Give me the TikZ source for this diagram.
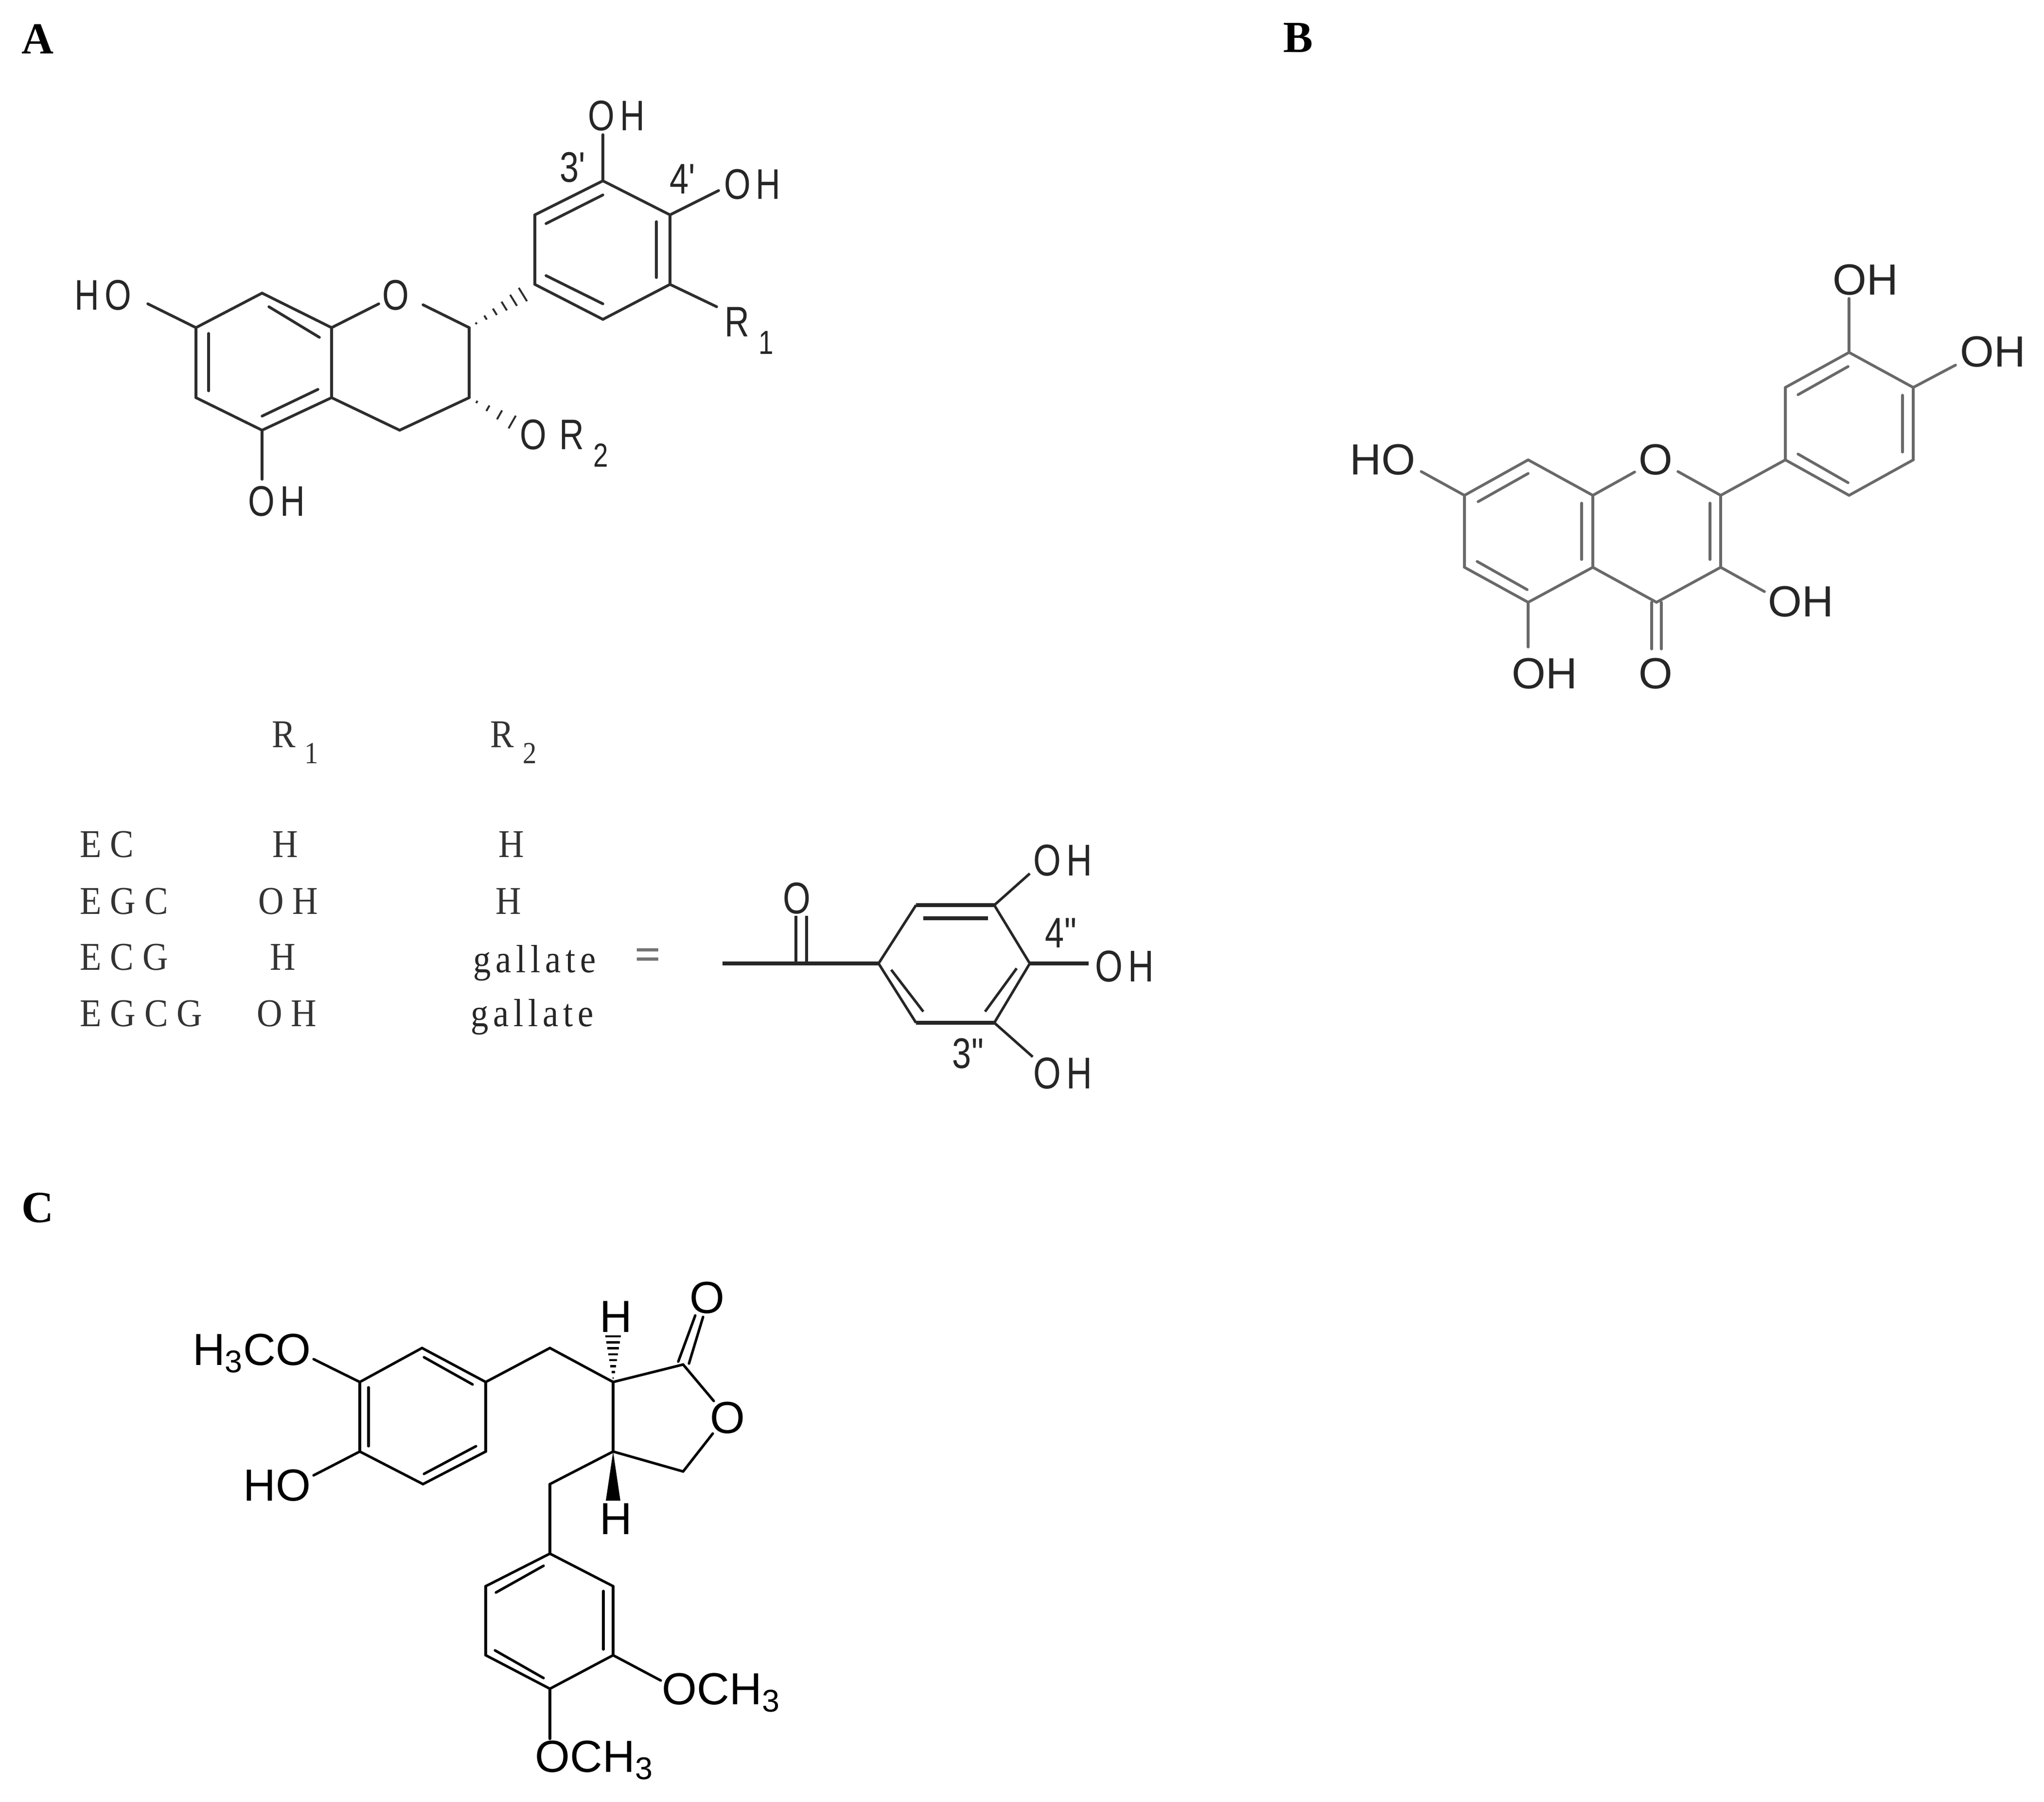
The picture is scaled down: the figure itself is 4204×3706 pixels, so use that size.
\documentclass[tikz,border=0pt]{standalone}
\usepackage{fontspec}
\usetikzlibrary{calc}
\setmainfont{Liberation Sans}
\newfontfamily\narrowsans[FakeStretch=0.8,LetterSpace=12]{Liberation Sans}
\newfontfamily\primefont[FakeStretch=0.8]{Liberation Sans}
\newfontfamily\tablefont[FakeStretch=0.9,LetterSpace=22]{Liberation Serif}
\newfontfamily\lowerfont[FakeStretch=0.9,LetterSpace=12]{Liberation Serif}
\newfontfamily\panelfont{Liberation Serif}
\definecolor{inkA}{RGB}{45, 45, 45}
\definecolor{inkB}{RGB}{105, 105, 105}
\newcommand{\lowsub}[1]{\hspace{0.22em}\raisebox{-0.42em}{\scalebox{0.78}{#1}}}
\newcommand{\hashbond}[4]{% from, to, half width, style
  \foreach \t in {#4} {
    \draw[#3] ($(#1)!\t!(#2)!\t*5pt!90:(#2)$) -- ($(#1)!\t!(#2)!\t*5pt!-90:(#2)$);
  }
}
\tikzset{
  bondA/.style={line width=1.6pt, draw=inkA, line cap=round},
  bondB/.style={line width=1.6pt, draw=inkB, line cap=round},
  bondC/.style={line width=1.5pt, draw=black, line cap=round},
  bondGal/.style={line width=1.5pt, draw=black!85},
  thickGal/.style={line width=2.4pt, draw=black!85},
  hashA/.style={line width=1.1pt, draw=inkA},
  hashC/.style={line width=1.3pt, draw=black},
  labelA/.style={inner sep=0pt, text=black!85, font=\fontsize{25}{25}\selectfont\narrowsans},
  primeA/.style={inner sep=0pt, text=black!85, font=\fontsize{25}{25}\selectfont\primefont},
  labelB/.style={inner sep=0pt, text=black!85, font=\fontsize{25.5}{26}\selectfont},
  labelC/.style={inner sep=0pt, text=black, font=\fontsize{26.3}{27}\selectfont},
  cellbox/.style={inner sep=0pt, text=black!80, font=\fontsize{23}{24}\selectfont\tablefont},
  gallatebox/.style={inner sep=0pt, text=black!85, font=\fontsize{23}{24}\selectfont\lowerfont},
  galabel/.style={inner sep=0pt, text=black!85, font=\fontsize{26}{26}\selectfont\narrowsans},
  panel/.style={inner sep=0pt, font=\fontsize{26}{26}\selectfont\panelfont\bfseries}
}
\begin{document}
\begin{tikzpicture}[x=0.01cm, y=-0.01cm]
  \useasboundingbox (0,0) rectangle (4204,3706);

  % panel letters
  \node[panel] (panelA) at (78,80) {A};
  \node[panel] (panelB) at (2670,78) {B};
  \node[panel] (panelC) at (78,2485) {C};

  % catechin skeleton
  \foreach \n/\x/\y in {a7/403/674, a8/539/603, a8a/682/674, a4a/682/818, a5/539/885, a6/403/818,
      aOl/779/625, aOr/870/627, a2/965/674, a3/965/818, a4/822/885,
      b1/1100/585, b2/1240/657, b3/1378/585, b4/1378/442, b5/1240/372, b6/1100/442,
      aOHt/1240/277, aOHr/1478/392, aRe/1474/631, aHOe/304/625, aOHb/539/986, aORe/1069/877, a1h/1085/600,
      i1s/553/631, i1e/657/694, i2s/429/686, i2e/429/804, i3s/654/801, i3e/539/856,
      i4s/1123/460, i4e/1240/401, i5s/1350/456, i5e/1350/571, i6s/1123/567, i6e/1240/625}
    \coordinate (\n) at (\x,\y);
  \foreach \p/\q in {a7/a8, a8/a8a, a8a/a4a, a4a/a5, a5/a6, a6/a7, a8a/aOl, aOr/a2, a2/a3, a3/a4, a4/a4a,
      b1/b2, b2/b3, b3/b4, b4/b5, b5/b6, b6/b1, b5/aOHt, b4/aOHr, b3/aRe, a7/aHOe, a5/aOHb,
      i1s/i1e, i2s/i2e, i3s/i3e, i4s/i4e, i5s/i5e, i6s/i6e}
    \draw[bondA] (\p) -- (\q);
  \hashbond{a2}{a1h}{hashA}{0.12,0.28,0.44,0.6,0.76,0.92}
  \hashbond{a3}{aORe}{hashA}{0.15,0.37,0.6,0.85}

  \node[labelA] (aHO) at (212,607) {HO};
  \node[labelA] (aO) at (814,607) {O};
  \node[labelA] (aOH1) at (1268,238) {OH};
  \node[labelA] (aOH2) at (1547,379) {OH};
  \node[labelA] (aOH3) at (569,1031) {OH};
  \node[labelA, anchor=base west] (aR1) at (1490,692) {R\lowsub{1}};
  \node[labelA, anchor=base west] (aOR2) at (1069,924) {O\hspace{0.3em}R\lowsub{2}};
  \node[primeA] (a3p) at (1178,344) {3'};
  \node[primeA] (a4p) at (1404,368) {4'};

  % table of substituents
  \node[cellbox, anchor=base west] (headR1) at (559,1537) {R\lowsub{1}};
  \node[cellbox, anchor=base west] (headR2) at (1008,1537) {R\lowsub{2}};
  \node[cellbox, anchor=west] (rowEC) at (164,1737) {EC};
  \node[cellbox, anchor=west] (rowEGC) at (164,1854) {EGC};
  \node[cellbox, anchor=west] (rowECG) at (164,1969) {ECG};
  \node[cellbox, anchor=west] (rowEGCG) at (164,2085) {EGCG};
  \node[cellbox] (oneEC) at (587,1737) {H};
  \node[cellbox] (oneEGC) at (593,1854) {OH};
  \node[cellbox] (oneECG) at (582,1969) {H};
  \node[cellbox] (oneEGCG) at (590,2085) {OH};
  \node[cellbox] (twoEC) at (1052,1737) {H};
  \node[cellbox] (twoEGC) at (1046,1854) {H};
  \node[gallatebox, anchor=base] (twoECG) at (1100,2000) {gallate};
  \node[gallatebox, anchor=base] (twoEGCG) at (1095,2111) {gallate};
  \node[inner sep=0pt, text=black!55, font=\fontsize{27}{27}\selectfont\panelfont\bfseries] (equals) at (1333,1973) {=};

  % gallate group
  \foreach \n/\x/\y in {gTail/1486/1982, g1/1807/1982, g2/1884/1862, g3/2045/1862, g4/2118/1982, g5/2045/2104, g6/1884/2104,
      gCO/1648/1982, gCOa/1637/1982, gCOb/1659/1982, gOa/1637/1884, gOb/1659/1884,
      gOHt/2118/1797, gOHr/2239/1982, gOHb/2124/2174,
      j1s/1899/1889, j1e/2032/1889, j2s/1833/1995, j2e/1899/2081, j3s/2091/1992, j3e/2026/2081}
    \coordinate (\n) at (\x,\y);
  \foreach \p/\q in {g1/g2, g3/g4, g4/g5, g6/g1, g3/gOHt, g5/gOHb, gCOa/gOa, gCOb/gOb, j2s/j2e, j3s/j3e}
    \draw[bondGal] (\p) -- (\q);
  \foreach \p/\q in {gTail/g1, g2/g3, g5/g6, g4/gOHr, j1s/j1e}
    \draw[thickGal] (\p) -- (\q);
  \node[galabel] (gO) at (1639,1848) {O};
  \node[galabel] (gOH1) at (2186,1770) {OH};
  \node[galabel] (gOH2) at (2313,1988) {OH};
  \node[galabel] (gOH3) at (2186,2208) {OH};
  \node[primeA] (g4pp) at (2182,1919) {4"};
  \node[primeA] (g3pp) at (1991,2167) {3"};

  % quercetin
  \foreach \n/\x/\y in {q7/3012/1019, q8/3143/946, q8a/3276/1019, q4a/3276/1167, q5/3143/1239, q6/3012/1167,
      qOl/3362/971, qOr/3451/970, q2/3539/1019, q3/3539/1167, q4/3407/1239,
      r1/3672/946, r2/3803/1019, r3/3935/946, r4/3935/797, r5/3803/725, r6/3672/797,
      qOHt/3803/614, qOHr/4022/751, qHOe/2923/970, qOH3e/3629/1217, qOH5e/3143/1331,
      qCa/3397/1239, qCb/3417/1239, qOa/3397/1335, qOb/3417/1335,
      k1s/3040/1032, k1e/3143/974, k2s/3253/1035, k2e/3253/1151, k3s/3038/1155, k3e/3141/1213,
      k4s/3517/1035, k4e/3517/1151, k5s/3698/934, k5e/3801/993, k6s/3913/813, k6e/3913/930,
      k7s/3698/812, k7e/3801/754}
    \coordinate (\n) at (\x,\y);
  \foreach \p/\q in {q7/q8, q8/q8a, q8a/q4a, q4a/q5, q5/q6, q6/q7, q8a/qOl, qOr/q2, q2/q3, q3/q4, q4/q4a,
      q2/r1, r1/r2, r2/r3, r3/r4, r4/r5, r5/r6, r6/r1, r5/qOHt, r4/qOHr, q7/qHOe, q3/qOH3e, q5/qOH5e,
      qCa/qOa, qCb/qOb, k1s/k1e, k2s/k2e, k3s/k3e, k4s/k4e, k5s/k5e, k6s/k6e, k7s/k7e}
    \draw[bondB] (\p) -- (\q);
  \node[labelB] (qHO) at (2844,946) {HO};
  \node[labelB] (qO) at (3405,946) {O};
  \node[labelB] (qOH1) at (3837,576) {OH};
  \node[labelB] (qOH2) at (4099,724) {OH};
  \node[labelB] (qOH3) at (3704,1238) {OH};
  \node[labelB] (qOH5) at (3177,1386) {OH};
  \node[labelB] (qOket) at (3405,1386) {O};

  % arctigenin
  \foreach \n/\x/\y in {c1/740/2843, c2/868/2773, c3/999/2843, c4/999/2986, c5/870/3053, c6/740/2986,
      cCHa/1131/2773, cH3/1261/2843, cK/1405/2807, cOa/1468/2882, cOb/1466/2949, cL/1405/3027, cH4/1261/2986, cCHb/1131/3053,
      d1/1131/3196, d2/1261/3263, d3/1261/3405, d4/1131/3474, d5/999/3405, d6/999/3263,
      cOMe1/645/2796, cHOe/645/3035, cOMe2/1359/3457, cOMe3/1131/3577,
      cKa/1395/2801, cKae/1430/2706, cKb/1417/2805, cKbe/1446/2709, cHup/1261/2741,
      cWl/1246/3087, cWr/1276/3087,
      m1s/872/2792, m1e/972/2848, m2s/758/2854, m2e/758/2975, m3s/979/2975, m3e/872/3032,
      m4s/1020/3276, m4e/1118/3221, m5s/1241/3273, m5e/1241/3393, m6s/1018/3395, m6e/1118/3452}
    \coordinate (\n) at (\x,\y);
  \foreach \p/\q in {c1/c2, c2/c3, c3/c4, c4/c5, c5/c6, c6/c1, c3/cCHa, cCHa/cH3, cH3/cK, cK/cOa, cOb/cL, cL/cH4, cH4/cH3,
      cH4/cCHb, cCHb/d1, d1/d2, d2/d3, d3/d4, d4/d5, d5/d6, d6/d1, c1/cOMe1, c6/cHOe, d3/cOMe2, d4/cOMe3,
      cKa/cKae, cKb/cKbe, m1s/m1e, m2s/m2e, m3s/m3e, m4s/m4e, m5s/m5e, m6s/m6e}
    \draw[bondC] (\p) -- (\q);
  \hashbond{cH3}{cHup}{hashC}{0.08,0.2,0.32,0.44,0.56,0.68,0.8,0.92}
  \fill (cH4) -- (cWl) -- (cWr) -- cycle;

  \node[labelC, anchor=base east] (cH3CO) at (640,2808) {H\textsubscript{3}CO};
  \node[labelC, anchor=base east] (cHO) at (640,3087) {HO};
  \node[labelC, anchor=base west] (cOCHa) at (1361,3506) {OCH\textsubscript{3}};
  \node[labelC, anchor=base west] (cOCHb) at (1100,3645) {OCH\textsubscript{3}};
  \node[labelC] (cOket) at (1454,2670) {O};
  \node[labelC] (cOring) at (1496,2917) {O};
  \node[labelC] (cHtop) at (1267,2709) {H};
  \node[labelC] (cHbot) at (1267,3125) {H};
\end{tikzpicture}
\end{document}
